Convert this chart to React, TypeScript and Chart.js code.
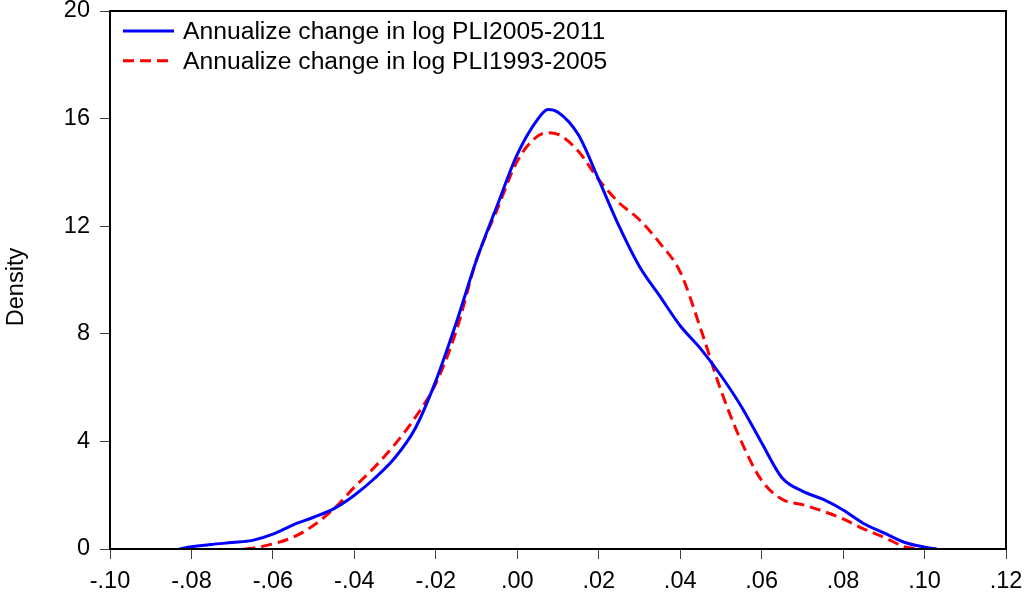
import React, { useEffect, useRef } from 'react';
import { Chart, registerables } from 'chart.js';

Chart.register(...registerables);

// ---- Data ----
const blueX = [-0.083, -0.08, -0.075, -0.07, -0.065, -0.06, -0.055, -0.05, -0.045, -0.04, -0.035, -0.03, -0.025, -0.02, -0.015, -0.01, -0.005, 0.0, 0.005, 0.0075, 0.01, 0.015, 0.02, 0.025, 0.03, 0.035, 0.04, 0.045, 0.05, 0.055, 0.06, 0.065, 0.07, 0.075, 0.08, 0.085, 0.09, 0.095, 0.1, 0.103];
const blueY = [0, 0.08, 0.17, 0.24, 0.32, 0.55, 0.9, 1.18, 1.5, 2.0, 2.63, 3.4, 4.5, 6.25, 8.4, 10.75, 12.74, 14.67, 15.97, 16.34, 16.24, 15.4, 13.73, 12.0, 10.5, 9.4, 8.3, 7.45, 6.45, 5.3, 3.95, 2.65, 2.15, 1.85, 1.45, 0.95, 0.6, 0.25, 0.07, 0];

const redX = [-0.067, -0.065, -0.06, -0.055, -0.05, -0.045, -0.04, -0.035, -0.03, -0.025, -0.02, -0.015, -0.01, -0.005, 0.0, 0.005, 0.0075, 0.01, 0.015, 0.02, 0.025, 0.03, 0.035, 0.04, 0.045, 0.05, 0.055, 0.06, 0.065, 0.07, 0.075, 0.08, 0.085, 0.09, 0.095, 0.098];
const redY = [0, 0.03, 0.19, 0.44, 0.88, 1.5, 2.3, 3.05, 3.9, 4.9, 6.15, 8.1, 10.75, 12.6, 14.42, 15.35, 15.47, 15.41, 14.79, 13.73, 12.87, 12.24, 11.37, 10.3, 8.2, 5.9, 4.0, 2.55, 1.85, 1.65, 1.41, 1.12, 0.75, 0.44, 0.09, 0];

const seriesLabels = ['Annualize change in log PLI2005-2011', 'Annualize change in log PLI1993-2005'];
const xTickValues = [-0.1, -0.08, -0.06, -0.04, -0.02, 0, 0.02, 0.04, 0.06, 0.08, 0.1, 0.12];
const yTickValues = [0, 4, 8, 12, 16, 20];
const yAxisTitle = 'Density';

const FONT = '"Liberation Sans", Arial, Helvetica, sans-serif';

function fmtX(v: number): string {
  const r = Math.round(v * 100) / 100;
  const s = Math.abs(r).toFixed(2).replace(/^0/, '');
  return (r < 0 ? '-' : '') + s;
}

const framePlugin = {
  id: 'frameAndLegend',
  afterDraw(chart: any) {
    const { ctx, chartArea } = chart;
    const { left, top, right, bottom } = chartArea;
    ctx.save();
    ctx.strokeStyle = '#000000';
    ctx.lineWidth = 2;
    ctx.setLineDash([]);
    ctx.strokeRect(left, top, right - left, bottom - top);

    // y axis title
    ctx.save();
    ctx.translate(17, (top + bottom) / 2 + 7);
    ctx.rotate(-Math.PI / 2);
    ctx.fillStyle = '#000000';
    ctx.font = `23.5px ${FONT}`;
    ctx.textAlign = 'center';
    ctx.textBaseline = 'middle';
    ctx.fillText(yAxisTitle, 0, 0);
    ctx.restore();

    // legend inside the plot, top-left
    const rows = [
      { y: 31, ty: 32.5 },
      { y: 60.7, ty: 62 },
    ];
    chart.data.datasets.forEach((ds: any, i: number) => {
      const r = rows[i];
      ctx.beginPath();
      ctx.strokeStyle = ds.borderColor;
      ctx.lineWidth = 3;
      ctx.setLineDash(ds.borderDash || []);
      ctx.moveTo(left + 13, r.y);
      ctx.lineTo(left + 64, r.y);
      ctx.stroke();
      ctx.setLineDash([]);
      ctx.fillStyle = '#000000';
      ctx.font = `24.7px ${FONT}`;
      ctx.textAlign = 'left';
      ctx.textBaseline = 'middle';
      ctx.fillText(ds.label, left + 73, r.ty);
    });
    ctx.restore();
  },
};

export default function App() {
  const canvasRef = useRef<HTMLCanvasElement | null>(null);

  useEffect(() => {
    document.body.style.margin = '0';
    const canvas = canvasRef.current;
    if (!canvas) return;
    const chart = new Chart(canvas, {
      type: 'line',
      data: {
        datasets: [
          {
            label: seriesLabels[0],
            data: blueX.map((x, i) => ({ x, y: blueY[i] })),
            borderColor: '#0000FF',
            borderWidth: 3,
            pointRadius: 0,
            fill: false,
            cubicInterpolationMode: 'monotone',
          },
          {
            label: seriesLabels[1],
            data: redX.map((x, i) => ({ x, y: redY[i] })),
            borderColor: '#FF0000',
            borderWidth: 3,
            borderDash: [11, 6],
            pointRadius: 0,
            fill: false,
            cubicInterpolationMode: 'monotone',
          },
        ],
      },
      options: {
        animation: false,
        responsive: false,
        devicePixelRatio: 1,
        layout: { padding: { top: 11, right: 19, left: 0, bottom: 0 } },
        plugins: {
          legend: { display: false },
          tooltip: { enabled: false },
        },
        scales: {
          x: {
            type: 'linear',
            min: -0.1,
            max: 0.12,
            afterBuildTicks: (scale: any) => {
              scale.ticks = xTickValues.map((v) => ({ value: v }));
            },
            afterFit: (scale: any) => {
              scale.height = 48;
              scale.paddingLeft = 0;
              scale.paddingRight = 0;
            },
            border: { display: false },
            grid: {
              drawOnChartArea: false,
              drawTicks: true,
              tickLength: 10,
              color: '#404040',
              lineWidth: 1,
            },
            ticks: {
              padding: 8,
              maxRotation: 0,
              autoSkip: false,
              color: '#000000',
              font: { family: FONT, size: 23.5 },
              callback: (v: any) => fmtX(Number(v)),
            },
          },
          y: {
            type: 'linear',
            min: 0,
            max: 20,
            afterBuildTicks: (scale: any) => {
              scale.ticks = yTickValues.map((v) => ({ value: v }));
            },
            afterFit: (scale: any) => {
              scale.width = 110;
              scale.paddingTop = 0;
              scale.paddingBottom = 0;
            },
            border: { display: false },
            grid: {
              drawOnChartArea: false,
              drawTicks: true,
              tickLength: 10,
              color: '#404040',
              lineWidth: 1,
            },
            ticks: {
              padding: 10,
              autoSkip: false,
              color: '#000000',
              font: { family: FONT, size: 23.5 },
              callback: (v: any) => String(v),
            },
          },
        },
      },
      plugins: [framePlugin],
    });
    return () => chart.destroy();
  }, []);

  return (
    <div style={{ width: 1025, height: 597, position: 'relative' }}>
      <canvas ref={canvasRef} width={1025} height={597} style={{ display: 'block' }} />
    </div>
  );
}
